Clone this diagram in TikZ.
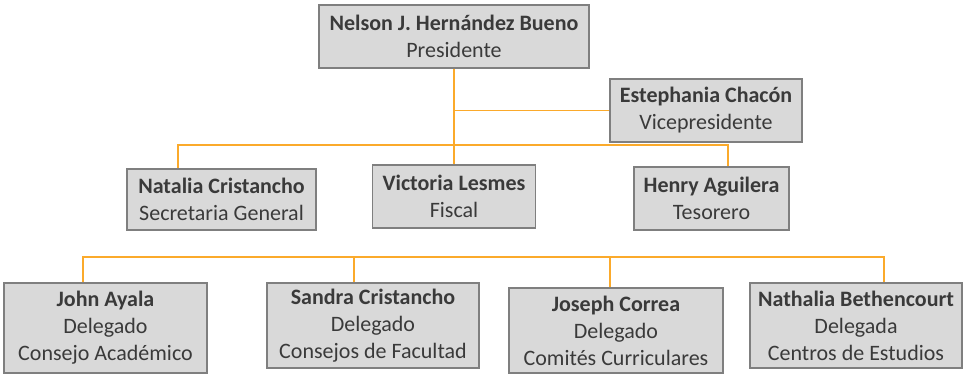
\documentclass[tikz,border=0pt]{standalone}
\usepackage{fontspec}
\setmainfont{Carlito}
\usetikzlibrary{positioning, calc}
\definecolor{linkorange}{HTML}{FBAA2B}
\definecolor{boxgray}{HTML}{D9D9D9}
\definecolor{edgegray}{HTML}{7F7F7F}
\definecolor{textgray}{HTML}{3A3A3A}

\begin{document}
\begin{tikzpicture}[
  x=1pt, y=-1pt,
  block/.style={rectangle, draw=edgegray, fill=boxgray, line width=1.2pt, inner sep=0pt, text=textgray, font=\fontsize{22}{27}\selectfont, align=center},
  link/.style={draw=linkorange, line width=1.6pt}
]
  \useasboundingbox (0,0) rectangle (966,375);

  % board
  \node[block, minimum width=270pt, minimum height=63pt] (pres) at (454,36.5) {\textbf{Nelson J. Hernández Bueno}\\Presidente};
  \node[block, minimum width=192pt, minimum height=63pt] (vice) at (706,110.5) {\textbf{Estephania Chacón}\\Vicepresidente};
  \node[block, minimum width=189pt, minimum height=61pt] (sec) at (221.5,199.5) {\textbf{Natalia Cristancho}\\Secretaria General};
  \node[block, minimum width=163pt, minimum height=63pt] (fis) at (454,196.5) {\textbf{Victoria Lesmes}\\Fiscal};
  \node[block, minimum width=155pt, minimum height=63pt] (tes) at (711.5,198.5) {\textbf{Henry Aguilera}\\Tesorero};

  % delegates
  \node[block, minimum width=203pt, minimum height=90pt] (acad) at (105.5,328) {\textbf{John Ayala}\\Delegado\\Consejo Académico};
  \node[block, minimum width=212pt, minimum height=85pt] (fac) at (373,325.5) {\textbf{Sandra Cristancho}\\Delegado\\Consejos de Facultad};
  \node[block, minimum width=214pt, minimum height=85pt] (curr) at (616,330.5) {\textbf{Joseph Correa}\\Delegado\\Comités Curriculares};
  \node[block, minimum width=212pt, minimum height=85pt] (est) at (856,325.5) {\textbf{Nathalia Bethencourt}\\Delegada\\Centros de Estudios};

  \coordinate (bar) at (454,145);
  \coordinate (lowbar) at (354,257);

  \draw[link] (pres.south) -- (fis.north);
  \draw[link] (vice.west) -- (vice.west -| pres.south);
  \draw[link] ([xshift=-43.5pt]sec.north) |- (bar) -| ([xshift=16.5pt]tes.north);

  \draw[link] ([xshift=-22.5pt]acad.north) |- (lowbar) -| ([xshift=28pt]est.north);
  \draw[link] ([xshift=-19pt]fac.north) -- ([xshift=-19pt]fac.north |- lowbar);
  \draw[link] ([xshift=-6pt]curr.north) -- ([xshift=-6pt]curr.north |- lowbar);
\end{tikzpicture}
\end{document}
